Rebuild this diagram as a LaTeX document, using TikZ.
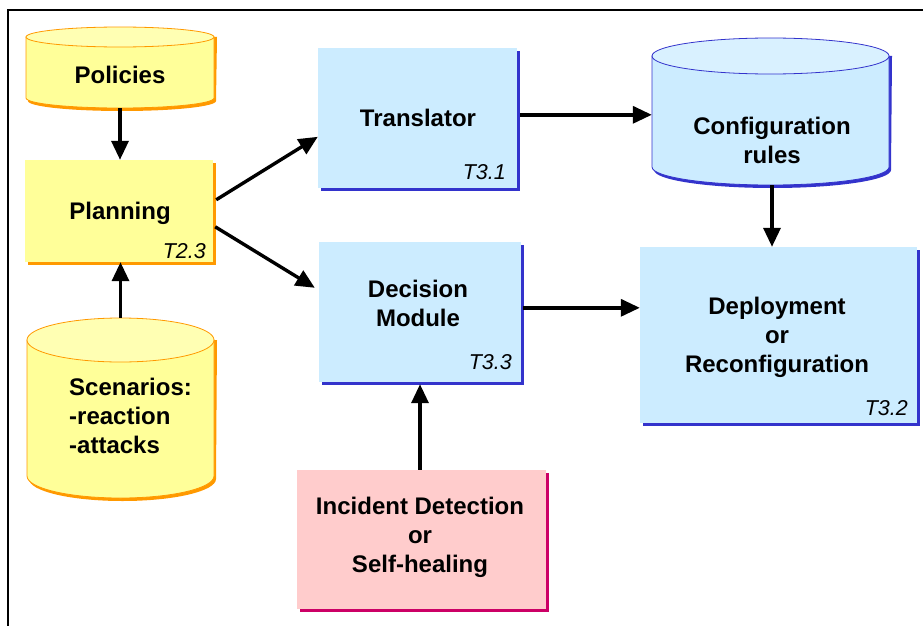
\documentclass[tikz,border=0pt]{standalone}
\usepackage{fontspec}
\setmainfont{Liberation Sans}
\usetikzlibrary{arrows.meta,calc,shadows}
\definecolor{ylwfill}{HTML}{FFFF99}
\definecolor{ylwtop}{HTML}{FFFFB3}
\definecolor{orng}{HTML}{FF9900}
\definecolor{bluefill}{HTML}{CCECFF}
\definecolor{bluetop}{HTML}{D9F1FF}
\definecolor{blueshd}{HTML}{3333CC}
\definecolor{pinkfill}{HTML}{FFCCCC}
\definecolor{magshd}{HTML}{CC0066}
\newcommand\drawcyl[8]{%
  \pgfmathsetmacro\cylrx{(#2-#1)/2}%
  \pgfmathsetmacro\cylcx{(#1+#2)/2}%
  \fill[#8] ({#1+2},{#3}) -- ({#1+2},{#4+3}) arc[start angle=180,end angle=0,x radius=\cylrx,y radius=#5] -- ({#2+3},{#3}) -- cycle;
  \filldraw[fill=#6,draw=#8,line width=0.8pt] (#1,#3) -- (#1,#4) arc[start angle=180,end angle=0,x radius=\cylrx,y radius=#5] -- (#2,#3) -- cycle;
  \filldraw[fill=#7,draw=#8,line width=0.8pt] (\cylcx,#3) ellipse[x radius=\cylrx,y radius=#5];
}
\begin{document}
\begin{tikzpicture}[x=1pt,y=-1pt,
  maintxt/.style={font=\fontsize{24}{29}\selectfont\bfseries,align=center,inner sep=0pt},
  tlabel/.style={font=\fontsize{21.5}{25}\selectfont\itshape,inner sep=0pt,anchor=east},
  box/.style={draw=none,inner sep=0pt},
  ybox/.style={box,fill=ylwfill,drop shadow={shadow xshift=3pt,shadow yshift=-3pt,fill=orng,opacity=1}},
  bbox/.style={box,fill=bluefill,drop shadow={shadow xshift=3pt,shadow yshift=-3pt,fill=blueshd,opacity=1}},
  pbox/.style={box,fill=pinkfill,drop shadow={shadow xshift=3pt,shadow yshift=-3pt,fill=magshd,opacity=1}},
  anchorbox/.style={draw=none,inner sep=0pt},
  arr/.style={line width=3.4pt,-{Triangle[length=19pt,width=17pt]}}
]
\useasboundingbox (0,0) rectangle (923,626);
\fill[white] (0,0) rectangle (923,626);
\draw[line width=1.2pt] (8,626) -- (8,10) -- (923,10);

% cylinders
\drawcyl{26}{214}{37}{98}{10}{ylwfill}{ylwtop}{orng}
\node[anchorbox,minimum width=188pt,minimum height=81pt] (pol) at (120,67.5) {};
\node[maintxt] at (120,75) {Policies};

\drawcyl{27}{214}{340}{476}{22}{ylwfill}{ylwtop}{orng}
\node[anchorbox,minimum width=187pt,minimum height=180pt] (scen) at (120.5,408) {};
\node[maintxt,align=left,anchor=west] at (69,416) {Scenarios:\\-reaction\\-attacks};

\drawcyl{652}{889}{56}{167}{18}{bluefill}{bluetop}{blueshd}
\node[anchorbox,minimum width=237pt,minimum height=148pt] (conf) at (770.5,111) {};
\node[maintxt] at (772,140) {Configuration\\rules};

% boxes
\node[ybox,minimum width=188pt,minimum height=102pt] (plan) at (119,211) {};
\node[maintxt] at (120,213) {Planning};
\node[tlabel] at (206,251) {T2.3};

\node[bbox,minimum width=199pt,minimum height=140pt] (trans) at (417.5,118) {};
\node[maintxt] at (418,118) {Translator};
\node[tlabel] at (506,172) {T3.1};

\node[bbox,minimum width=202pt,minimum height=140pt] (dec) at (420,312) {};
\node[maintxt] at (418,303) {Decision\\Module};
\node[tlabel] at (512,362) {T3.3};

\node[bbox,minimum width=277pt,minimum height=176pt] (dep) at (778.5,335) {};
\node[maintxt] at (777,337) {Deployment\\or\\Reconfiguration};
\node[tlabel] at (908,408) {T3.2};

\node[pbox,minimum width=249pt,minimum height=139pt] (inc) at (421.5,539.5) {};
\node[maintxt] at (420,537) {Incident Detection\\or\\Self-healing};

% connectors
\draw[arr] (pol.south) -- (pol.south |- plan.north);
\draw[arr] (scen.north) -- (scen.north |- plan.south);
\draw[arr] ($(plan.north east)+(3,40)$) -- ($(trans.north west)+(0,89)$);
\draw[arr] ($(plan.north east)+(2,67)$) -- ($(dec.north west)+(-4,46)$);
\draw[arr] ($(trans.north east)+(3,67)$) coordinate (t1) -- (t1 -| conf.west);
\draw[arr] ($(conf.south)+(1.5,0)$) coordinate (c1) -- (c1 |- dep.north);
\draw[arr] ($(dec.north east)+(2,66)$) coordinate (d1) -- (d1 -| dep.west);
\draw[arr] ($(inc.north)+(-1.5,0)$) coordinate (i1) -- ($(i1 |- dec.south)+(0,2)$);
\end{tikzpicture}
\end{document}
